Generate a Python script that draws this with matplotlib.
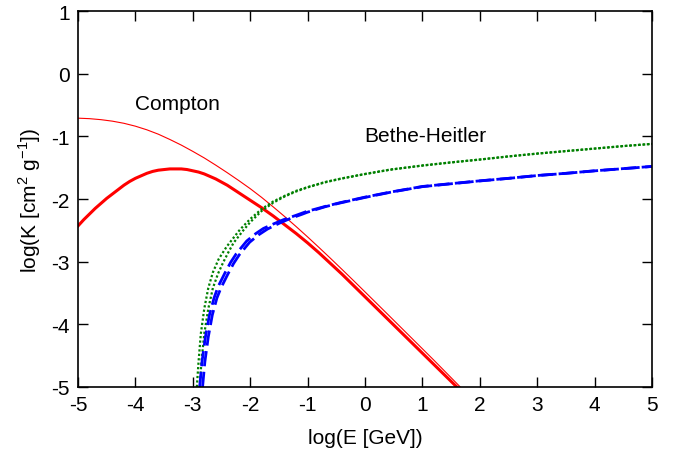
import matplotlib
matplotlib.use("Agg")
import matplotlib.pyplot as plt

plt.rcParams['font.family'] = ['Liberation Sans', 'DejaVu Sans']
plt.rcParams['mathtext.fontset'] = 'custom'
plt.rcParams['mathtext.rm'] = 'Liberation Sans'
plt.rcParams['axes.unicode_minus'] = False

# Compton (thick)
compton_thick_x = [-5.0, -4.9, -4.8, -4.7, -4.6, -4.5, -4.4, -4.3, -4.2, -4.1, -4.0, -3.9, -3.8, -3.7, -3.6,
                   -3.5, -3.4, -3.3, -3.2, -3.1, -3.0, -2.9, -2.8, -2.7, -2.6, -2.5, -2.4, -2.3, -2.2, -2.1,
                   -2.0, -1.8, -1.6, -1.4, -1.2, -1.0, -0.8, -0.6, -0.4, -0.2, 0.0, 0.4, 0.8, 1.2, 1.6]
compton_thick_y = [-2.43, -2.33, -2.24, -2.15, -2.07, -1.99, -1.92, -1.85, -1.78, -1.72, -1.67, -1.63, -1.59, -1.56, -1.54,
                   -1.53, -1.52, -1.52, -1.52, -1.53, -1.55, -1.57, -1.60, -1.64, -1.68, -1.73, -1.78, -1.84, -1.90, -1.96,
                   -2.02, -2.14, -2.27, -2.41, -2.55, -2.70, -2.86, -3.03, -3.20, -3.38, -3.56, -3.92, -4.28, -4.64, -5.0]
# Compton (thin)
compton_thin_x = [-5.0, -4.8, -4.6, -4.4, -4.2, -4.0, -3.8, -3.6, -3.4, -3.2, -3.0, -2.8, -2.6, -2.4, -2.2,
                  -2.0, -1.8, -1.6, -1.4, -1.2, -1.0, -0.8, -0.6, -0.4, -0.2, 0.0, 0.4, 0.8, 1.2, 1.66]
compton_thin_y = [-0.71, -0.718, -0.734, -0.758, -0.792, -0.838, -0.896, -0.966, -1.05, -1.14, -1.24, -1.345, -1.46, -1.58, -1.705,
                  -1.835, -1.975, -2.125, -2.28, -2.44, -2.605, -2.775, -2.948, -3.124, -3.302, -3.482, -3.844, -4.208, -4.572, -5.0]
# Bethe-Heitler (green dotted, two curves)
bh_green1_x = [-2.93, -2.90, -2.86, -2.80, -2.73, -2.65, -2.55, -2.41, -2.3, -2.18, -2.0, -1.8, -1.6, -1.4, -1.2,
               -1.0, -0.7, -0.4, 0.0, 0.44, 1.0, 1.5, 2.0, 2.5, 3.0, 3.5, 4.0, 4.5, 5.0]
bh_green1_y = [-5.0, -4.6, -4.15, -3.75, -3.42, -3.17, -2.96, -2.76, -2.63, -2.49, -2.32, -2.16, -2.04, -1.95, -1.87,
               -1.81, -1.73, -1.67, -1.60, -1.53, -1.465, -1.415, -1.37, -1.32, -1.275, -1.235, -1.195, -1.155, -1.12]
bh_green2_x = [-2.88, -2.85, -2.80, -2.73, -2.65, -2.56, -2.47, -2.38, -2.29, -2.12, -2.0, -1.8, -1.6, -1.4, -1.2,
               -1.0, -0.7, -0.4, 0.0, 0.44, 1.0, 1.5, 2.0, 2.5, 3.0, 3.5, 4.0, 4.5, 5.0]
bh_green2_y = [-5.0, -4.6, -4.15, -3.75, -3.42, -3.19, -3.01, -2.85, -2.70, -2.50, -2.37, -2.19, -2.06, -1.96, -1.88,
               -1.815, -1.735, -1.673, -1.603, -1.533, -1.467, -1.417, -1.371, -1.321, -1.276, -1.236, -1.196, -1.156, -1.121]
# Bethe-Heitler (blue dashed, two curves)
bh_blue1_x = [-2.88, -2.84, -2.78, -2.71, -2.63, -2.56, -2.44, -2.34, -2.24, -2.06, -1.9, -1.77, -1.6, -1.42, -1.2,
              -1.02, -0.7, -0.44, 0.0, 0.44, 1.0, 1.5, 2.0, 2.5, 3.0, 3.5, 4.0, 4.5, 5.0]
bh_blue1_y = [-5.0, -4.6, -4.2, -3.85, -3.58, -3.40, -3.18, -3.01, -2.87, -2.67, -2.55, -2.47, -2.40, -2.33, -2.26,
              -2.20, -2.12, -2.06, -1.97, -1.89, -1.80, -1.755, -1.71, -1.67, -1.625, -1.59, -1.55, -1.515, -1.48]
bh_blue2_x = [-2.83, -2.79, -2.73, -2.66, -2.58, -2.51, -2.39, -2.29, -2.19, -2.01, -1.85, -1.7, -1.5, -1.3, -1.1,
              -1.0, -0.7, -0.44, 0.0, 0.44, 1.0, 1.5, 2.0, 2.5, 3.0, 3.5, 4.0, 4.5, 5.0]
bh_blue2_y = [-5.0, -4.6, -4.2, -3.85, -3.58, -3.42, -3.20, -3.03, -2.89, -2.69, -2.57, -2.48, -2.39, -2.31, -2.245,
              -2.21, -2.125, -2.065, -1.975, -1.893, -1.803, -1.757, -1.712, -1.671, -1.626, -1.591, -1.551, -1.516, -1.481]

x_ticks = [-5, -4, -3, -2, -1, 0, 1, 2, 3, 4, 5]
y_ticks = [-5, -4, -3, -2, -1, 0, 1]

fig = plt.figure(figsize=(6.78, 4.56), dpi=100)
ax = fig.add_axes([78/678, 68/456, 574/678, 376/456])

ax.plot(compton_thin_x, compton_thin_y, color='#ff0000', lw=0.8)
ax.plot(compton_thick_x, compton_thick_y, color='#ff0000', lw=2.2)
ax.plot(bh_green1_x, bh_green1_y, color='#008000', lw=1.6, linestyle=(0, (1, 1)))
ax.plot(bh_green2_x, bh_green2_y, color='#008000', lw=1.6, linestyle=(0, (1, 1)))
ax.plot(bh_blue1_x, bh_blue1_y, color='#0000ff', lw=2.0, linestyle=(0, (5.5, 2)))
ax.plot(bh_blue2_x, bh_blue2_y, color='#0000ff', lw=2.0, linestyle=(0, (5.5, 2)))

ax.set_xlim(-5, 5)
ax.set_ylim(-5, 1)
ax.set_xticks(x_ticks)
ax.set_yticks(y_ticks)
ax.tick_params(direction='in', length=7, width=1, top=True, right=True, labelsize=15, pad=6)
for s in ax.spines.values():
    s.set_linewidth(1.2)

ax.set_xlabel('log(E [GeV])', fontsize=15, labelpad=10)
ax.set_ylabel(r'log(K [cm$^{2}$ g$^{-1}$])', fontsize=15, labelpad=6)

ax.text(-3.26, -0.47, 'Compton', fontsize=15, ha='center', va='center')
ax.text(1.05, -0.98, 'Bethe-Heitler', fontsize=15, ha='center', va='center')

fig.savefig('out.png', dpi=100)
